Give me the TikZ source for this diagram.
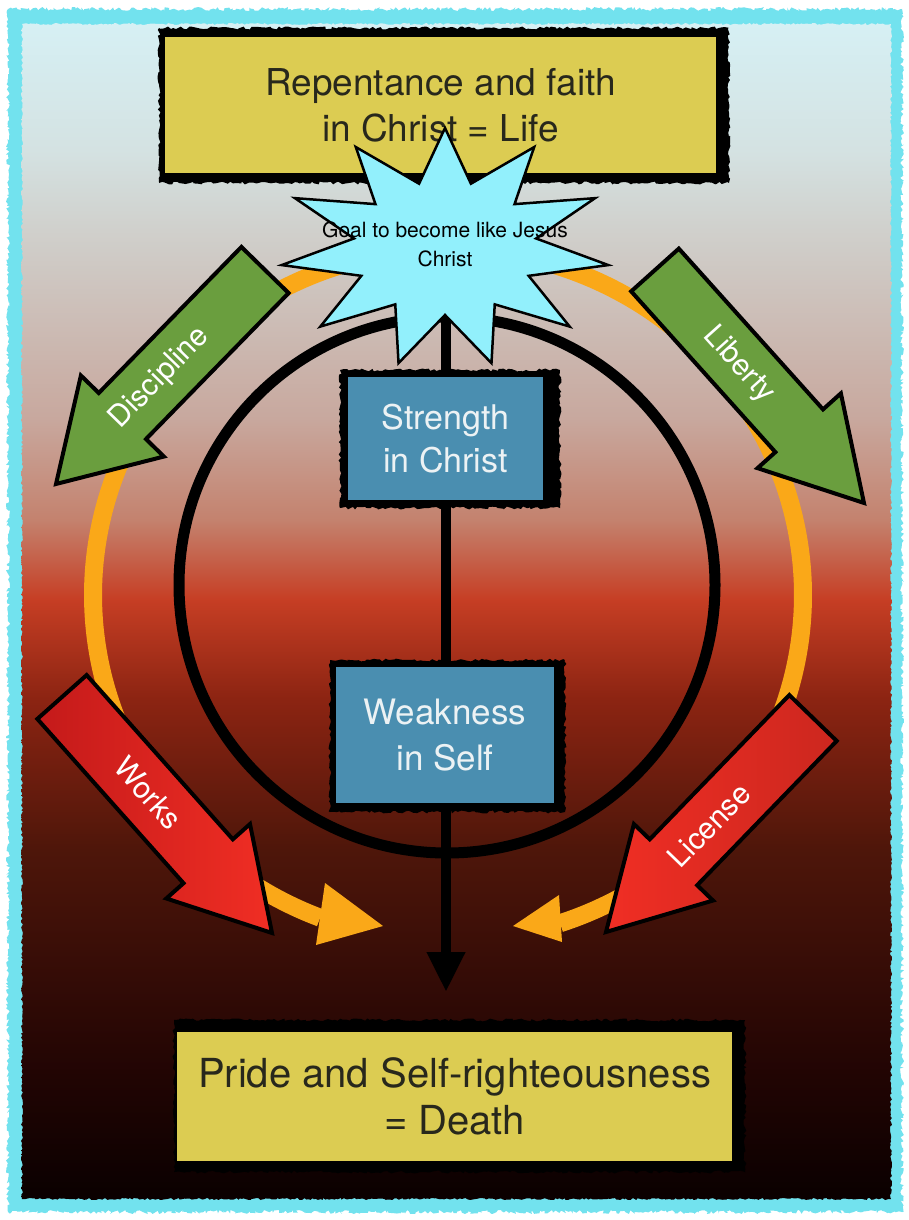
\documentclass[tikz,border=0pt]{standalone}
\usepackage{fontspec}
\setmainfont{TeX Gyre Heros}
\usetikzlibrary{arrows.meta,decorations.pathmorphing}

\definecolor{cFrame}{RGB}{114,226,238}
\definecolor{cYellow}{RGB}{220,204,82}
\definecolor{cYtext}{RGB}{40,40,28}
\definecolor{cBlue}{RGB}{74,142,176}
\definecolor{cBtext}{RGB}{236,242,244}
\definecolor{cGreen}{RGB}{106,158,62}
\definecolor{cRed}{RGB}{240,46,36}
\definecolor{cRedDark}{RGB}{196,26,26}
\definecolor{cOrange}{RGB}{250,168,24}
\definecolor{cStar}{RGB}{146,240,252}

\definecolor{g0}{RGB}{10,0,0}
\definecolor{g1}{RGB}{38,6,4}
\definecolor{g2}{RGB}{78,22,10}
\definecolor{g3}{RGB}{140,36,18}
\definecolor{g4}{RGB}{198,62,36}
\definecolor{g5}{RGB}{196,130,110}
\definecolor{g6}{RGB}{200,168,158}
\definecolor{g7}{RGB}{208,208,204}
\definecolor{g8}{RGB}{212,226,226}
\definecolor{g9}{RGB}{214,240,244}

\pgfdeclareverticalshading{bgshade}{100bp}{color(0bp)=(g0); color(25bp)=(g0); color(31.4bp)=(g1); color(39.9bp)=(g2); color(46.3bp)=(g3); color(50.5bp)=(g4); color(53.9bp)=(g5); color(58.2bp)=(g6); color(66.2bp)=(g7); color(69.6bp)=(g8); color(75bp)=(g9); color(100bp)=(g9)}

\newcommand\fatarrow[8]{%
  \pgfmathsetmacro\fadx{#3-#1}%
  \pgfmathsetmacro\fady{#4-#2}%
  \pgfmathsetmacro\faang{atan2(-\fady,\fadx)}%
  \pgfmathsetmacro\falen{veclen(\fadx,\fady)}%
  \pgfmathsetmacro\fab{\falen-#7}%
  \begin{scope}[shift={(#1,#2)},rotate=\faang]
    \draw[#8] (0,-#5) -- (\fab,-#5) -- (\fab,-#6) -- (\falen,0) -- (\fab,#6) -- (\fab,#5) -- (0,#5) -- cycle;
  \end{scope}}

\begin{document}
\begin{tikzpicture}[x=1pt,y=-1pt,
  ybox/.style={fill=cYellow, text=cYtext, inner sep=0pt, align=center},
  bbox/.style={fill=cBlue, text=cBtext, inner sep=0pt, align=center},
  roughedge/.style={decorate, decoration={random steps, segment length=3pt, amplitude=1.5pt}},
  arrowlabel/.style={text=white, font=\fontsize{30}{36}\selectfont, inner sep=0pt},
  greenarrow/.style={fill=cGreen, draw=black, line width=4pt, line join=miter},
  redarrowL/.style={left color=cRedDark, right color=cRed, draw=black, line width=4pt, line join=miter},
  redarrowR/.style={left color=cRed, right color=cRed!85!black, draw=black, line width=4pt, line join=miter},
  ring/.style={draw=cOrange, line width=18pt},
  orangehead/.style={fill=cOrange},
  blackring/.style={draw=black, line width=11pt},
  mainline/.style={draw=black, line width=10pt, -{Triangle[length=40pt,width=36pt]}},
  starshape/.style={fill=cStar, draw=black, line width=2.5pt, line join=miter},
  goaltext/.style={text=black, align=center, inner sep=0pt, font=\fontsize{21}{29}\selectfont}]

\useasboundingbox (0,0) rectangle (909,1220);
\fill[white] (0,0) rectangle (909,1220);

% frame and background
\fill[cFrame, decorate, decoration={random steps, segment length=2pt, amplitude=2pt}] (8,9) rectangle (902,1212);
\shade[shading=bgshade, decorate, decoration={random steps, segment length=2pt, amplitude=1pt}] (22,24) rectangle (891,1199);

% orange ring
\draw[ring] plot[domain=71.6:-248.9, samples=160, smooth] ({448+355*cos(\x)},{595+346*sin(\x)});
\fill[orangehead] (325,883) -- (383,926) -- (316,945) -- cycle;
\fill[orangehead] (559,895) -- (513,926) -- (562,942) -- cycle;

% black ring
\draw[blackring] (447,585) ellipse [x radius=268, y radius=268];

% vertical line
\coordinate (vtop) at (446,300);
\coordinate (vtip) at (446,992);
\draw[mainline] (vtop) -- (vtip);

% blue boxes
\fill[black, roughedge] (340,370) rectangle (560,508);
\node[bbox, minimum width=195, minimum height=123, font=\fontsize{34}{43}\selectfont] (strength) at (445.5,438.5) {Strength\\in Christ};
\fill[black, roughedge] (330,660) rectangle (565,812);
\node[bbox, minimum width=218, minimum height=136, font=\fontsize{35}{46}\selectfont] (weakness) at (445,735) {Weakness\\in Self};

% top box
\fill[black, roughedge] (159,28) rectangle (729,183);
\node[ybox, minimum width=551, minimum height=136, font=\fontsize{37}{46}\selectfont] (top) at (440.5,105) {Repentance and faith\\in Christ = Life};

% bottom box
\fill[black, roughedge] (174,1020) rectangle (745,1172);
\node[ybox, minimum width=555, minimum height=129, font=\fontsize{40}{47}\selectfont] (bottom) at (454.5,1096) {Pride and Self-righteousness\\= Death};

% star
\draw[starshape] (445,128) \foreach \k in {0,...,10}{
  -- ({445+92*cos(90-(\k+0.5)*360/11)},{248-67*sin(90-(\k+0.5)*360/11)})
  -- ({445+165*cos(90-(\k+1)*360/11)},{248-120*sin(90-(\k+1)*360/11)}) } -- cycle;
\node[goaltext] (goal) at (445,244) {Goal to become like Jesus\\Christ};

% big arrows
\fatarrow{265}{270}{56}{484}{33}{58}{95}{greenarrow}
\fatarrow{655}{270}{864}{503}{32}{56}{97}{greenarrow}
\fatarrow{62}{697}{272}{933}{33}{56}{96}{redarrowL}
\fatarrow{813}{718}{606}{932}{33}{55}{97}{redarrowR}

\node[arrowlabel, rotate=45.8] (discipline) at (160,378) {Discipline};
\node[arrowlabel, rotate=-48.1] (liberty) at (739,365) {Liberty};
\node[arrowlabel, rotate=-48.3] (works) at (148,793) {Works};
\node[arrowlabel, rotate=46] (license) at (709,825) {License};

\end{tikzpicture}
\end{document}
